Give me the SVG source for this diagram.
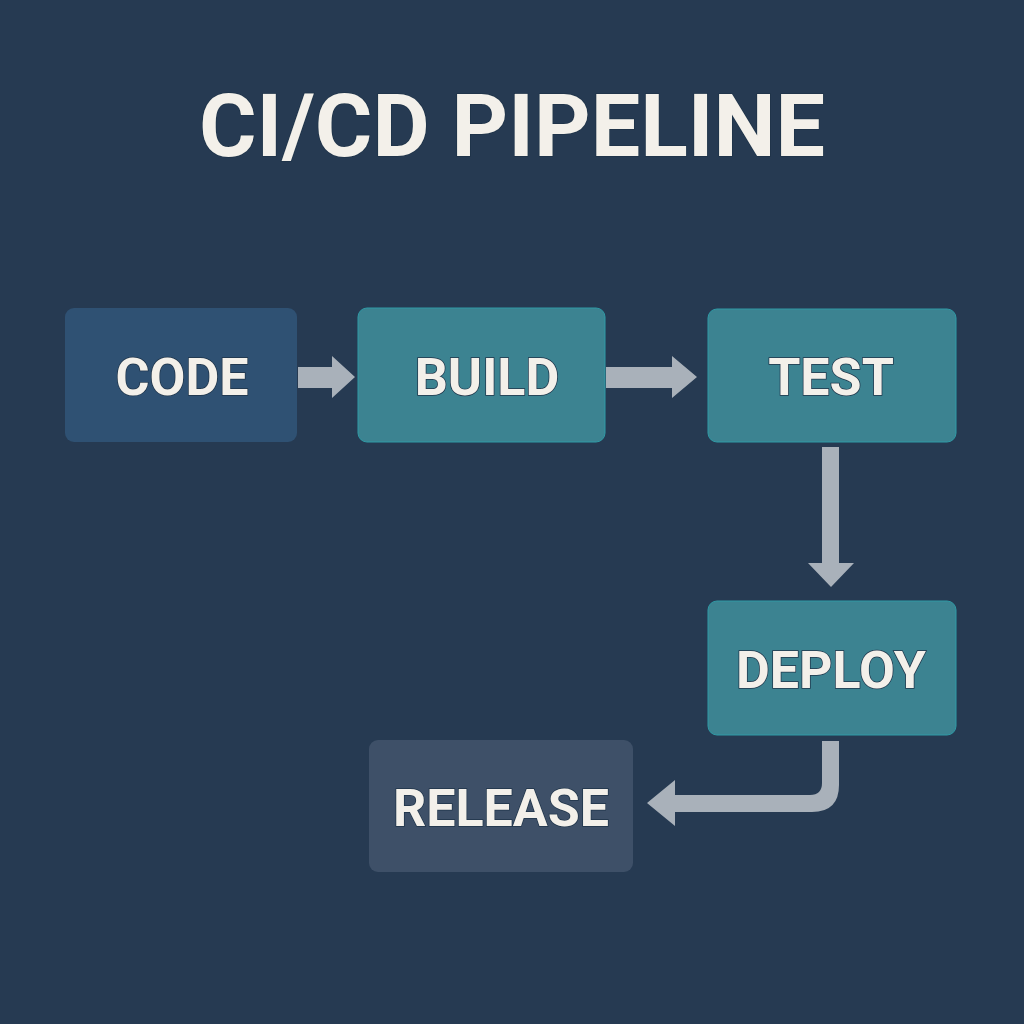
<svg xmlns="http://www.w3.org/2000/svg" width="1024" height="1024" viewBox="0 0 1024 1024">
<style>
.lbl{font-family:Roboto,"Liberation Sans",sans-serif;font-weight:700;fill:#f3f0ea;text-anchor:middle;stroke:#1e3348;stroke-width:1.5;paint-order:stroke}
.title{font-size:88px}
.node{font-size:52px}
.teal{fill:#3c8391;stroke:#2f9aa6;stroke-width:1}
.arrow{fill:#a9b1ba}
</style>
<rect x="0" y="0" width="1024" height="1024" fill="#263a52"/>
<text class="lbl title" x="512" y="156">CI/CD PIPELINE</text>
<g id="connectors">
<polygon class="arrow" points="298,367 332,367 332,356 355,377 332,398 332,388 298,388"/>
<polygon class="arrow" points="606,367 672,367 672,356 697,377 672,398 672,388 606,388"/>
<polygon class="arrow" points="822,447 839,447 839,563 854,563 831,587 808,563 822,563"/>
<path class="arrow" d="M822,741 L839,741 L839,785 Q839,812 812,812 L675,812 L675,826 L647,803 L675,780 L675,795 L810,795 Q822,795 822,783 Z"/>
</g>
<g id="code"><rect x="65" y="308" width="232" height="134" rx="9" fill="#2f5173"/><text class="lbl node" x="182" y="395">CODE</text></g>
<g id="build"><rect class="teal" x="358" y="308" width="247" height="134" rx="9"/><text class="lbl node" x="487" y="395">BUILD</text></g>
<g id="test"><rect class="teal" x="708" y="309" width="248" height="133" rx="9"/><text class="lbl node" x="831" y="395">TEST</text></g>
<g id="deploy"><rect class="teal" x="708" y="601" width="248" height="134" rx="9"/><text class="lbl node" x="831" y="688">DEPLOY</text></g>
<g id="release"><rect x="369" y="740" width="264" height="132" rx="9" fill="#3e5068"/><text class="lbl node" x="501" y="826">RELEASE</text></g>
</svg>
